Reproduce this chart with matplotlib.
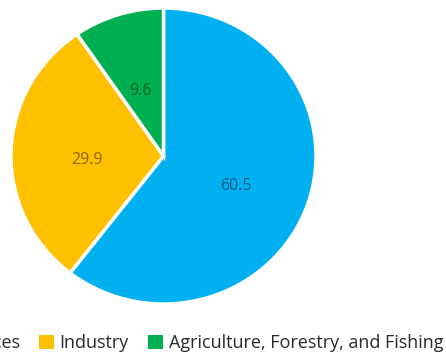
import matplotlib.pyplot as plt
from matplotlib.patches import Patch

# GDP share by sector (%)
sectors = ['Services', 'Industry', 'Agriculture, Forestry, and Fishing']
shares = [60.5, 29.9, 9.6]
colors = ['#00B0F0', '#FFC000', '#00B050']

plt.rcParams['font.family'] = ['Open Sans', 'DejaVu Sans']

fig = plt.figure(figsize=(4.46, 3.54), dpi=100)
ax = fig.add_axes([11 / 446, 50 / 354, 305 / 446, 296 / 354])

wedges, texts, autotexts = ax.pie(
    shares, colors=colors, startangle=90, counterclock=False,
    autopct='%.1f', pctdistance=0.5, radius=1,
    wedgeprops=dict(edgecolor='white', linewidth=2.5),
    textprops=dict(fontsize=11.5, color='black', alpha=0.45))
# nudge the value labels down a little
for t in autotexts:
    x, y = t.get_position()
    t.set_position((x, y - 0.04))
ax.set_xlim(-1, 1)
ax.set_ylim(-1, 1)
ax.set_aspect('auto')
ax.axis('off')

handles = [Patch(facecolor=c, edgecolor='none') for c in colors]
fig.legend(handles, sectors, loc='center right', bbox_to_anchor=(443 / 446, 11 / 354),
           ncol=3, frameon=False, borderaxespad=0, borderpad=0,
           handlelength=0.85, handleheight=0.85, handletextpad=0.3,
           columnspacing=1.05, fontsize=13, labelcolor='#2a2a2a')

fig.savefig('out.png', dpi=100)
